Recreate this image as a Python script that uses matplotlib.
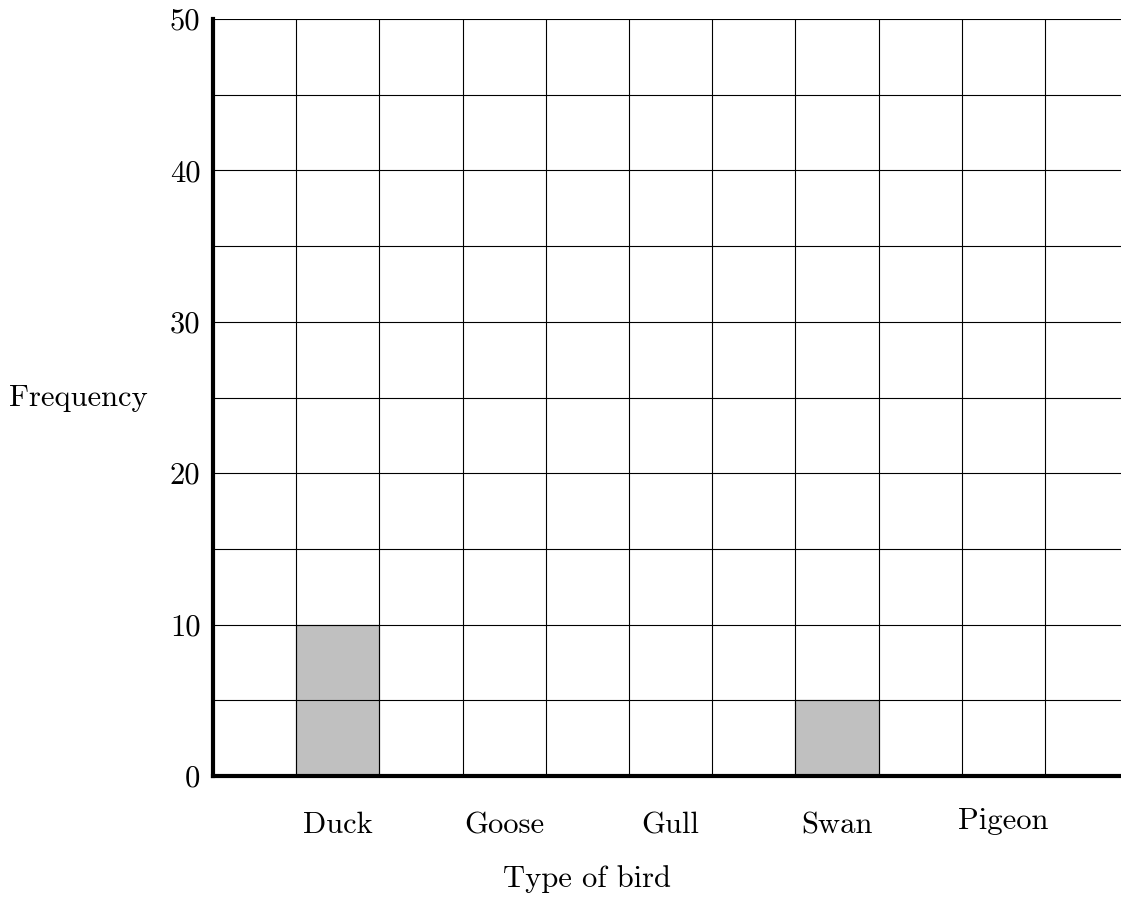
import matplotlib
matplotlib.use("Agg")
import matplotlib.pyplot as plt
import matplotlib.transforms as mtransforms
import numpy as np

plt.rcParams['font.family'] = 'serif'
plt.rcParams['font.serif'] = ['cmr10']
plt.rcParams['mathtext.fontset'] = 'cm'
plt.rcParams['axes.unicode_minus'] = False

# data
birds = ['Duck', 'Goose', 'Gull', 'Swan', 'Pigeon']
counts = [10, 0, 0, 5, 0]
bird_pos = [1.5, 3.5, 5.5, 7.5, 9.5]
y_ticks = [0, 10, 20, 30, 40, 50]

W, H = 1121, 902
fig = plt.figure(figsize=(W / 100, H / 100), dpi=100)
x0, x1 = 213, 1121
y0, y1 = 776, 19
ax = fig.add_axes([x0 / W, 1 - y0 / H, (x1 - x0) / W, (y0 - y1) / H])

ax.set_xlim(0, (x1 - x0) / 83.2)
ax.set_ylim(0, 50)

ax.bar(bird_pos, counts, width=1, color='#c0c0c0', edgecolor='#333333',
       linewidth=0.8, zorder=1)

# grid on top of bars
ax.set_yticks(y_ticks)
ax.set_yticklabels([str(v) for v in y_ticks], fontsize=22)
ax.set_xticks([])
ax.set_xticks(np.arange(0, 11), minor=True)
ax.set_yticks(np.arange(0, 51, 5), minor=True)
ax.grid(which='both', color='black', linewidth=0.8, zorder=2)
ax.set_axisbelow(False)
ax.tick_params(axis='both', which='both', length=0)
ax.tick_params(axis='y', pad=9)

# category labels, centred like tikz nodes (descenders lift the text)
for name, pos in zip(birds, bird_pos):
    dy = 4 if any(c in 'gjpqy' for c in name) else 0
    tr = mtransforms.offset_copy(ax.get_xaxis_transform(), fig=fig, x=0, y=dy, units='dots')
    ax.text(pos, -0.047, name, transform=tr, ha='center', va='top', fontsize=22)

for s in ['top', 'right']:
    ax.spines[s].set_visible(False)
for s in ['left', 'bottom']:
    ax.spines[s].set_linewidth(3)
    ax.spines[s].set_zorder(5)
    ax.spines[s].set_capstyle('projecting')

ax.set_ylabel('Frequency', fontsize=22, rotation=0, ha='center', va='center')
ax.yaxis.set_label_coords(-0.148, 0.499)
ax.set_xlabel('Type of bird', fontsize=22, va='top')
ax.xaxis.set_label_coords(4.5 / ax.get_xlim()[1], -0.118)

fig.savefig('out.png', dpi=100)
